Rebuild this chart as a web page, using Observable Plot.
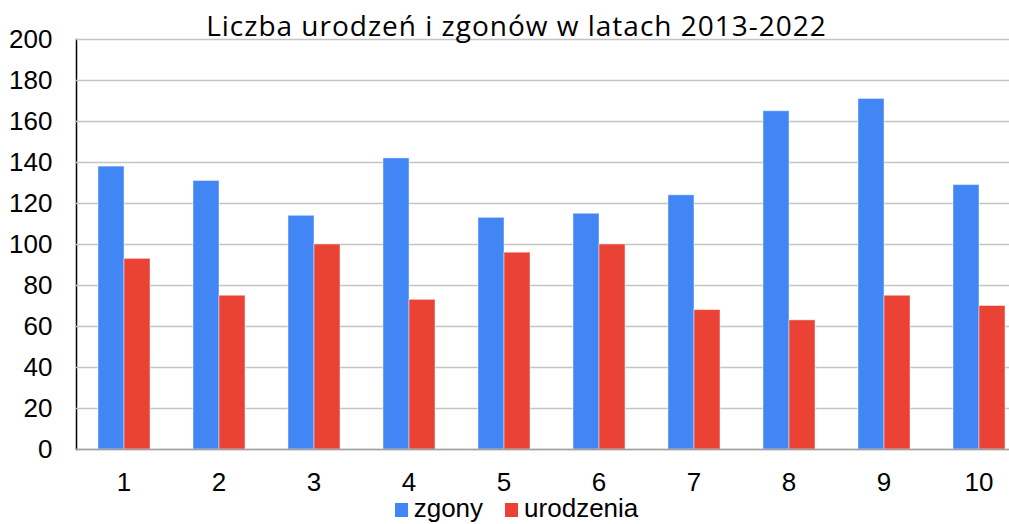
<!DOCTYPE html>
<html>
<head>
<meta charset="utf-8">
<script src="https://cdn.jsdelivr.net/npm/d3@7"></script>
<script src="https://cdn.jsdelivr.net/npm/@observablehq/plot@0.6"></script>
<style>
  html, body { margin: 0; padding: 0; background: #fff; }
  #wrap { position: relative; width: 1009px; height: 524px; overflow: hidden; }
  #title { position: absolute; left: 0; top: 11px; width: 1033px; text-align: center;
           font-family: "Open Sans", sans-serif; font-size: 28px; line-height: 28px; letter-spacing: 1px; color: #000; white-space: nowrap; }
  #legend { position: absolute; left: 0; top: 499px; width: 1033px; display: flex; justify-content: center;
            font-family: "Liberation Sans", Arial, sans-serif; font-size: 26px; line-height: 18px; color: #000; }
  .item { display: flex; align-items: flex-end; margin: 0 11px; }
  .sw { width: 13px; height: 14px; margin-right: 6px; margin-bottom: 0px; }
  #chart { position: absolute; left: 0; top: 0; }
</style>
</head>
<body>
<div id="wrap">
  <div id="chart"></div>
  <div id="title"></div>
  <div id="legend"></div>
</div>
<script>
const titleText = "Liczba urodzeń i zgonów w latach 2013-2022";
const categories = ["1", "2", "3", "4", "5", "6", "7", "8", "9", "10"];
const seriesNames = ["zgony", "urodzenia"];
const seriesColors = ["#4285F4", "#EA4335"];
const zgony = [138, 131, 114, 142, 113, 115, 124, 165, 171, 129];
const urodzenia = [93, 75, 100, 73, 96, 100, 68, 63, 75, 70];
const yTicks = [0, 20, 40, 60, 80, 100, 120, 140, 160, 180, 200];

const data = categories.flatMap((c, i) => [
  {cat: c, series: seriesNames[0], value: zgony[i]},
  {cat: c, series: seriesNames[1], value: urodzenia[i]}
]);

const chart = Plot.plot({
  width: 1009,
  height: 524,
  marginTop: 39,
  marginBottom: 75,
  marginLeft: 77,
  marginRight: 0,
  style: {fontFamily: "'Liberation Sans', Arial, sans-serif", fontSize: "26px", color: "#000", background: "transparent", overflow: "visible"},
  fx: {domain: categories, range: [76, 1026], padding: 0, label: null, tickSize: 0, tickPadding: 23},
  x: {domain: seriesNames, paddingInner: 0, paddingOuter: 0.76, axis: null},
  y: {domain: [0, 200], ticks: yTicks, tickSize: 0, tickPadding: 24, label: null, line: true},
  color: {domain: seriesNames, range: seriesColors},
  marks: [
    Plot.gridY(yTicks, {stroke: "#c4c4c4", strokeOpacity: 1, strokeWidth: 1.5}),
    Plot.barY(data, {fx: "cat", x: "series", y: "value", fill: "series", stroke: "#ffffff", strokeOpacity: 0.45, strokeWidth: 1}),
    Plot.ruleY([0], {stroke: "#a0a0a0", strokeWidth: 1.5})
  ]
});
chart.querySelectorAll("[aria-label='y-axis line'] *, [aria-label='frame']").forEach(e => { e.setAttribute("stroke", "#a0a0a0"); e.setAttribute("stroke-width", "1.5"); });
document.getElementById("chart").appendChild(chart);

document.getElementById("title").textContent = titleText;
const legend = document.getElementById("legend");
seriesNames.forEach((name, i) => {
  const item = document.createElement("div");
  item.className = "item";
  const sw = document.createElement("div");
  sw.className = "sw";
  sw.style.background = seriesColors[i];
  const label = document.createElement("span");
  label.textContent = name;
  item.appendChild(sw);
  item.appendChild(label);
  legend.appendChild(item);
});
</script>
</body>
</html>
